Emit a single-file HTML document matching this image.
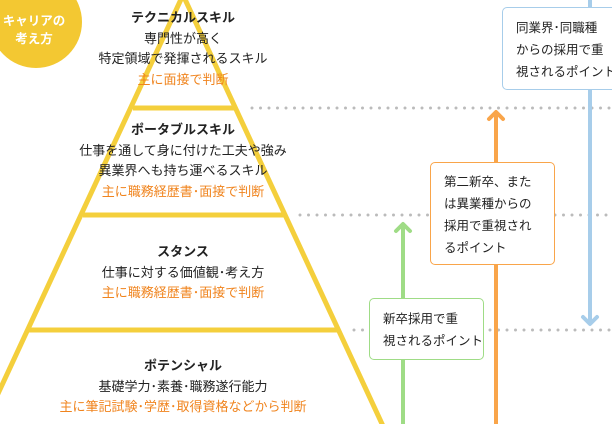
<!DOCTYPE html>
<html><head><meta charset="utf-8"><style>
body{margin:0;width:612px;height:424px;overflow:hidden;background:#fff;position:relative;font-family:"Liberation Sans","Noto Sans CJK JP",sans-serif;}
.t{position:absolute;width:320px;left:23px;text-align:center;font-size:13px;line-height:20.5px;color:#222;}
.t b{font-weight:bold;}
.o{color:#f0841e;}
.box{position:absolute;background:#fff;border-radius:5px;font-size:12.5px;line-height:22px;color:#222;padding:0 0 0 13px;box-sizing:border-box;white-space:nowrap;}
</style></head><body>
<svg width="612" height="424" style="position:absolute;left:0;top:0">
<circle cx="36" cy="22" r="46" fill="#f3c832"/>
<g stroke="#f4cf3c" stroke-width="5" fill="none">
<line x1="183" y1="-5" x2="-17" y2="426"/>
<line x1="183" y1="-5" x2="383" y2="426"/>
</g>
<g stroke="#f4cf3c" stroke-width="5">
<line x1="133" y1="108" x2="234" y2="108"/>
<line x1="83" y1="215" x2="284" y2="215"/>
<line x1="29" y1="330" x2="337" y2="330"/>
</g>
<g stroke="#bbb" stroke-width="3" stroke-linecap="round" stroke-dasharray="0 8.5">
<line x1="252" y1="108" x2="612" y2="108"/>
<line x1="300" y1="215" x2="612" y2="215"/>
<line x1="354" y1="330" x2="612" y2="330"/>
</g>
<g stroke-width="4" fill="none" stroke-linecap="round" stroke-linejoin="round">
<line x1="403" y1="226" x2="403" y2="430" stroke="#9fdc86"/>
<polyline points="396,231 403,224 410,231" stroke="#9fdc86"/>
<line x1="496" y1="114" x2="496" y2="430" stroke="#f9a54a"/>
<polyline points="489,119 496,112 503,119" stroke="#f9a54a"/>
<line x1="590" y1="-2" x2="590" y2="322" stroke="#a7cdea"/>
<polyline points="583,317 590,324 597,317" stroke="#a7cdea"/>
</g>
</svg>
<div style="position:absolute;left:0;top:12px;width:68px;text-align:center;color:#fff;font-weight:bold;font-size:12.5px;line-height:18px;">キャリアの<br>考え方</div>
<div class="t" style="top:8px"><b>テクニカルスキル</b><br>専門性が高く<br>特定領域で発揮されるスキル<br><span class="o">主に面接で判断</span></div>
<div class="t" style="top:120px"><b>ポータブルスキル</b><br>仕事を通して身に付けた工夫や強み<br>異業界へも持ち運べるスキル<br><span class="o">主に職務経歴書･面接で判断</span></div>
<div class="t" style="top:242px"><b>スタンス</b><br>仕事に対する価値観･考え方<br><span class="o">主に職務経歴書･面接で判断</span></div>
<div class="t" style="top:356px"><b>ポテンシャル</b><br>基礎学力･素養･職務遂行能力<br><span class="o">主に筆記試験･学歴･取得資格などから判断</span></div>
<div class="box" style="left:502px;top:7px;width:120px;height:83px;border:1px solid #a7cdea;padding-top:9px;">同業界･同職種<br>からの採用で重<br>視されるポイント</div>
<div class="box" style="left:430px;top:162px;width:125px;height:103px;border:1px solid #f9a54a;padding-top:8px;">第二新卒、また<br>は異業種からの<br>採用で重視され<br>るポイント</div>
<div class="box" style="left:369px;top:298px;width:115px;height:62px;border:1px solid #9fdc86;padding-top:9px;">新卒採用で重<br>視されるポイント</div>
</body></html>
